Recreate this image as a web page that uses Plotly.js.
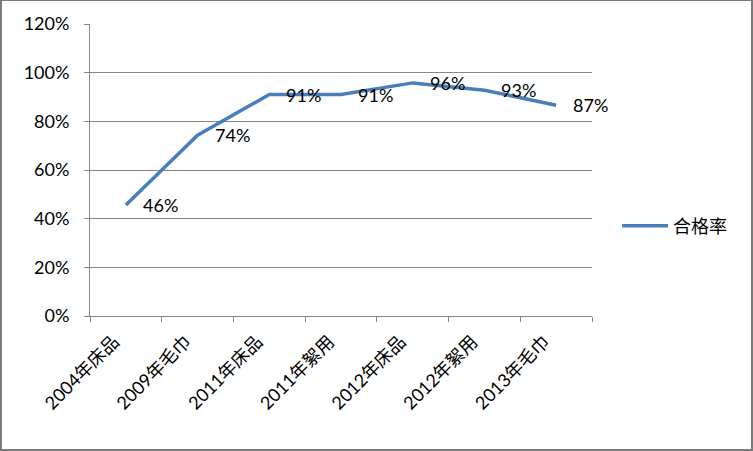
<!DOCTYPE html>
<html>
<head>
<meta charset="utf-8">
<script src="https://cdn.plot.ly/plotly-3.0.1.min.js"></script>
<style>
  html, body { margin: 0; padding: 0; background: #fff; }
  #wrap { position: relative; width: 753px; height: 451px; }
  #chart { width: 753px; height: 451px; }
  #frame { position: absolute; left: 0; top: 0; width: 753px; height: 451px; box-sizing: border-box;
           border: 2px solid #7a7a7a; border-top-width: 1px; pointer-events: none; }
</style>
</head>
<body>
<div id="wrap"><div id="chart"></div><div id="frame"></div></div>
<script>
const categories = ["2004年床品", "2009年毛巾", "2011年床品", "2011年絮用", "2012年床品", "2012年絮用", "2013年毛巾"];
const passRate = [0.456, 0.743, 0.91, 0.91, 0.958, 0.928, 0.866];
const valueLabels = ["46%", "74%", "91%", "91%", "96%", "93%", "87%"];
const yTickVals = [0, 0.2, 0.4, 0.6, 0.8, 1.0, 1.2];
const yTickText = ["0%", "20%", "40%", "60%", "80%", "100%", "120%"];
const seriesName = "合格率";

const FONT = "Lato, 'Noto Sans CJK SC', sans-serif";

const trace = {
  type: "scatter",
  mode: "lines",
  x: categories,
  y: passRate,
  name: seriesName,
  line: { color: "#4a7ebb", width: 3.5 },
  hoverinfo: "skip"
};

const annotations = categories.map((c, i) => ({
  x: c, y: passRate[i], xref: "x", yref: "y",
  text: valueLabels[i], showarrow: false,
  xanchor: "left", yanchor: "middle", xshift: 15,
  font: { family: FONT, size: 18, color: "#000" }
}));

const layout = {
  width: 753, height: 451,
  margin: { l: 90, r: 161, t: 24, b: 135 },
  paper_bgcolor: "#fff", plot_bgcolor: "#fff",
  font: { family: FONT, size: 18, color: "#000" },
  showlegend: true,
  legend: {
    x: 1.05, xanchor: "left", y: 0.308, yanchor: "middle",
    font: { family: FONT, size: 18, color: "#000" },
    itemwidth: 46,
    bgcolor: "rgba(0,0,0,0)"
  },
  xaxis: {
    type: "category",
    tickson: "boundaries",
    ticks: "outside", ticklen: 5, tickcolor: "#868686",
    showline: true, linecolor: "#868686", linewidth: 1,
    showgrid: false, zeroline: false,
    tickangle: -45,
    tickfont: { family: FONT, size: 18, color: "#000" },
    ticklabelshift: -12,
    ticklabelstandoff: 7,
    range: [-0.5, 6.5]
  },
  yaxis: {
    range: [0, 1.2],
    tickvals: yTickVals, ticktext: yTickText,
    ticks: "outside", ticklen: 5, tickcolor: "#868686",
    showline: true, linecolor: "#868686", linewidth: 1,
    showgrid: true, gridcolor: "#868686", gridwidth: 1,
    zeroline: false,
    tickfont: { family: FONT, size: 18, color: "#000" },
    ticklabelstandoff: 11
  },
  annotations: annotations
};

Plotly.newPlot("chart", [trace], layout, { displayModeBar: false, staticPlot: true });
</script>
</body>
</html>
